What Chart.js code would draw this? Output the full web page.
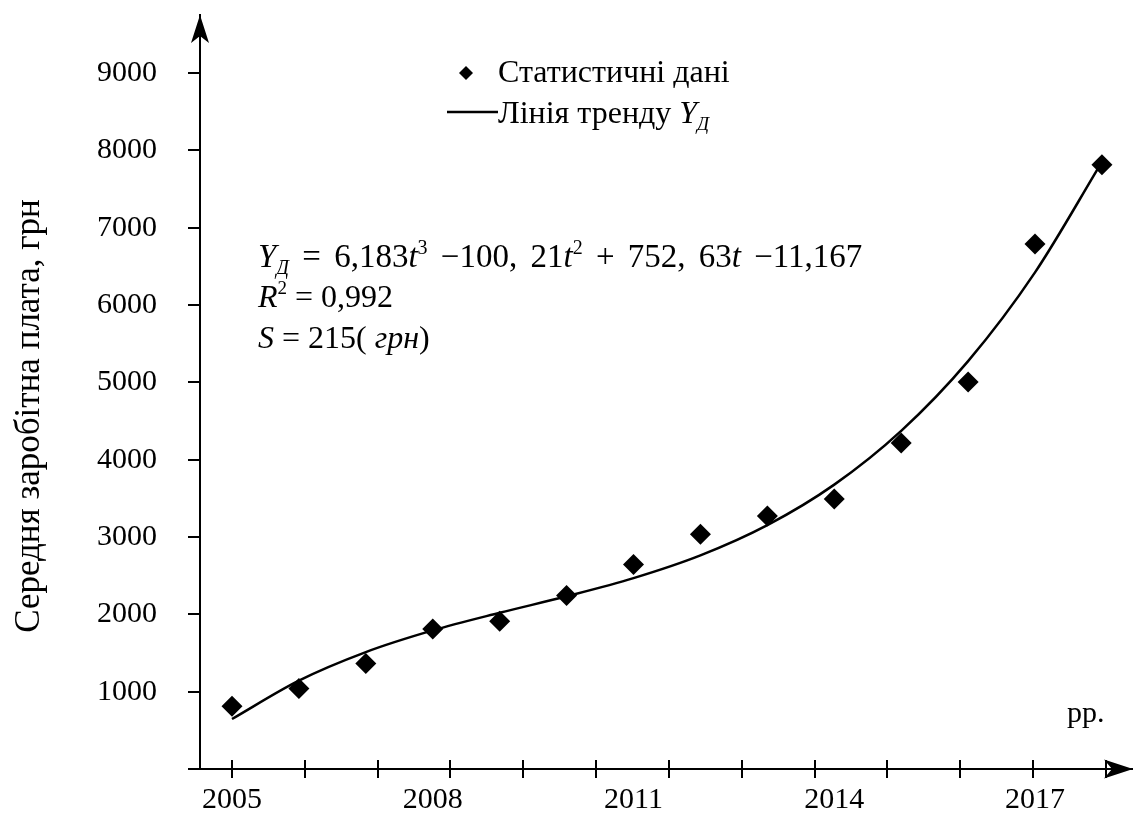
<!DOCTYPE html>
<html>
<head>
<meta charset="utf-8">
<script src="https://cdn.jsdelivr.net/npm/chart.js@4.4.1/dist/chart.umd.min.js"></script>
<style>
  html, body { margin: 0; padding: 0; background: #fff; overflow: hidden; }
  #wrap { width: 1133px; height: 815px; }
</style>
</head>
<body>
<div id="wrap"><canvas id="chart"></canvas></div>
<script>
// data
const years = [2005, 2006, 2007, 2008, 2009, 2010, 2011, 2012, 2013, 2014, 2015, 2016, 2017, 2018];
const wages = [810, 1040, 1365, 1810, 1910, 2245, 2645, 3035, 3270, 3490, 4215, 5005, 6790, 7815];
const trend = [647, 1143, 1512, 1792, 2020, 2233, 2468, 2762, 3153, 3677, 4372, 5274, 6422, 7851];

const xLabelYears = [2005, 2008, 2011, 2014, 2017];
const xTickMarks = [2005, 2006.09, 2007.18, 2008.26, 2009.35, 2010.44, 2011.53, 2012.62, 2013.71, 2014.79, 2015.88, 2016.97, 2018.06];
const yTicks = [1000, 2000, 3000, 4000, 5000, 6000, 7000, 8000, 9000];

const seriesLabels = ['Статистичні дані', 'Лінія тренду '];
const yTitle = 'Середня заробітна плата, грн';
const xUnit = 'рр.';

const FONT = '"Liberation Serif", "Times New Roman", serif';

// equation block, one array of parts per line
const eqLines = [
  [{ t: 'Y', i: true }, { t: 'Д', i: true, sub: true }, { t: ' = 6,183' }, { t: 't', i: true }, { t: '3', sup: true },
   { t: ' \u2212100, 21' }, { t: 't', i: true }, { t: '2', sup: true }, { t: ' + 752, 63' }, { t: 't', i: true }, { t: ' \u221211,167' }],
  [{ t: 'R', i: true }, { t: '2', sup: true }, { t: ' = 0,992' }],
  [{ t: 'S', i: true }, { t: ' = 215( ' }, { t: 'грн', i: true }, { t: ')' }]
];
const eqSizes = [33, 32, 32];
const eqGaps = [5, 0, 0]; // extra px per space

function drawRich(ctx, parts, x, y, size, gap) {
  gap = gap || 0;
  for (const p of parts) {
    const fs = (p.sup || p.sub) ? Math.round(size * 0.6) : size;
    ctx.font = (p.i ? 'italic ' : '') + fs + 'px ' + FONT;
    const dy = p.sup ? -size * 0.4 : p.sub ? size * 0.22 : 0;
    const bits = p.t.split(' ');
    bits.forEach((b, k) => {
      if (k > 0) x += ctx.measureText(' ').width + gap;
      ctx.fillText(b, x, y + dy);
      x += ctx.measureText(b).width;
    });
  }
  return x;
}

const decor = {
  id: 'decor',
  afterDraw(chart) {
    const ctx = chart.ctx;
    const { left, right, top, bottom } = chart.chartArea;
    const xs = chart.scales.x;
    ctx.save();
    ctx.strokeStyle = '#000';
    ctx.fillStyle = '#000';
    ctx.lineWidth = 2;

    // x axis stub left of the y axis + crossing tick marks
    ctx.beginPath();
    ctx.moveTo(left - 12, bottom);
    ctx.lineTo(left, bottom);
    xTickMarks.forEach(v => {
      const px = Math.round(xs.getPixelForValue(v));
      ctx.moveTo(px, bottom - 9);
      ctx.lineTo(px, bottom + 9);
    });
    ctx.stroke();

    // arrow heads
    ctx.beginPath();
    ctx.moveTo(right, bottom);
    ctx.lineTo(right - 29, bottom - 9.5);
    ctx.lineTo(right - 21, bottom);
    ctx.lineTo(right - 29, bottom + 9.5);
    ctx.closePath();
    ctx.moveTo(left, top);
    ctx.lineTo(left - 9, top + 28);
    ctx.lineTo(left, top + 21);
    ctx.lineTo(left + 9, top + 28);
    ctx.closePath();
    ctx.fill();

    ctx.textBaseline = 'alphabetic';
    ctx.textAlign = 'left';

    // units on x
    ctx.font = '30px ' + FONT;
    ctx.fillText(xUnit, 1067, 722);

    // y title
    ctx.save();
    ctx.translate(30, 416);
    ctx.rotate(-Math.PI / 2);
    ctx.textAlign = 'center';
    ctx.textBaseline = 'middle';
    ctx.font = '35px ' + FONT;
    ctx.fillText(yTitle, 0, 0);
    ctx.restore();

    // legend
    const ds = chart.data.datasets;
    ctx.beginPath();
    ctx.moveTo(466, 66); ctx.lineTo(473, 73); ctx.lineTo(466, 80); ctx.lineTo(459, 73);
    ctx.closePath();
    ctx.fill();
    ctx.font = '32px ' + FONT;
    ctx.fillText(ds[0].label, 498, 82);

    ctx.lineWidth = 2.5;
    ctx.beginPath();
    ctx.moveTo(447, 112); ctx.lineTo(498, 112);
    ctx.stroke();
    ctx.font = '32px ' + FONT;
    ctx.fillText(ds[1].label, 498, 123);
    const lx = 498 + ctx.measureText(ds[1].label).width;
    drawRich(ctx, [{ t: 'Y', i: true }, { t: 'Д', i: true, sub: true }], lx, 123, 32);

    // equation
    const baselines = [267, 307, 348];
    eqLines.forEach((parts, k) => drawRich(ctx, parts, 258, baselines[k], eqSizes[k], eqGaps[k]));

    ctx.restore();
  }
};

new Chart(document.getElementById('chart'), {
  data: {
    datasets: [
      {
        type: 'scatter',
        label: seriesLabels[0],
        data: years.map((y, i) => ({ x: y, y: wages[i] })),
        pointStyle: 'rectRot',
        pointRadius: 10.5,
        backgroundColor: '#000',
        borderColor: '#000',
        borderWidth: 0
      },
      {
        type: 'line',
        label: seriesLabels[1],
        data: years.map((y, i) => ({ x: y, y: trend[i] })),
        borderColor: '#000',
        borderWidth: 2.5,
        pointRadius: 0,
        cubicInterpolationMode: 'monotone',
        fill: false
      }
    ]
  },
  options: {
    responsive: true,
    maintainAspectRatio: false,
    animation: false,
    events: [],
    layout: { autoPadding: false, padding: { top: 15, right: 0, bottom: 0, left: 0 } },
    plugins: {
      legend: { display: false },
      tooltip: { enabled: false }
    },
    scales: {
      x: {
        type: 'linear',
        min: 2004.522,
        max: 2018.464,
        afterBuildTicks: (scale) => { scale.ticks = xLabelYears.map(v => ({ value: v })); },
        afterFit: (scale) => { scale.height = 46; scale.paddingLeft = 0; scale.paddingRight = 0; },
        grid: { display: false, drawTicks: false, tickLength: 0 },
        border: { display: true, color: '#000', width: 2 },
        ticks: {
          color: '#000',
          font: { family: FONT, size: 30 },
          padding: 13,
          maxRotation: 0,
          autoSkip: false,
          callback: (v) => String(v)
        }
      },
      y: {
        min: 0,
        max: 9750,
        afterBuildTicks: (scale) => { scale.ticks = yTicks.map(v => ({ value: v })); },
        afterFit: (scale) => { scale.width = 200; scale.paddingTop = 0; scale.paddingBottom = 0; },
        grid: { drawOnChartArea: false, drawTicks: true, tickLength: 12, color: '#000', lineWidth: 2 },
        border: { display: true, color: '#000', width: 2 },
        ticks: {
          color: '#000',
          font: { family: FONT, size: 30 },
          padding: 31,
          autoSkip: false,
          callback: (v) => String(v)
        }
      }
    }
  },
  plugins: [decor]
});
</script>
</body>
</html>
